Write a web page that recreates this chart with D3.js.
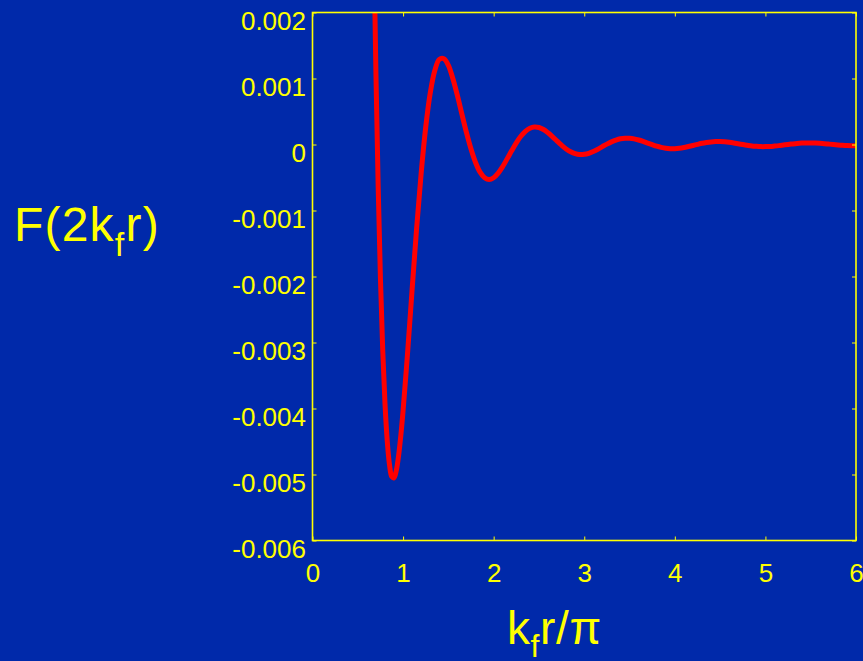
<!DOCTYPE html>
<html>
<head>
<meta charset="utf-8">
<script src="https://cdn.jsdelivr.net/npm/d3@7"></script>
<style>
  html, body { margin: 0; padding: 0; background: #0029AA; }
  svg { display: block; }
</style>
</head>
<body>
<script>
// Range function F(2 k_f r) sampled along k_f r / pi
const kfrOverPi = [
  0.65, 0.675, 0.7, 0.725, 0.75, 0.775, 0.8, 0.825, 0.85, 0.875, 0.9, 0.925, 0.95, 0.975, 1.0,
  1.05, 1.1, 1.15, 1.2, 1.25, 1.3, 1.35, 1.4, 1.45, 1.5, 1.55, 1.6, 1.65, 1.7, 1.75, 1.8, 1.85, 1.9, 1.95, 2.0,
  2.05, 2.1, 2.15, 2.2, 2.25, 2.3, 2.35, 2.4, 2.45, 2.5, 2.55, 2.6, 2.65, 2.7, 2.75, 2.8, 2.85, 2.9, 2.95, 3.0,
  3.05, 3.1, 3.15, 3.2, 3.25, 3.3, 3.35, 3.4, 3.45, 3.5, 3.55, 3.6, 3.65, 3.7, 3.75, 3.8, 3.85, 3.9, 3.95, 4.0,
  4.05, 4.1, 4.15, 4.2, 4.25, 4.3, 4.35, 4.4, 4.45, 4.5, 4.55, 4.6, 4.65, 4.7, 4.75, 4.8, 4.85, 4.9, 4.95, 5.0,
  5.05, 5.1, 5.15, 5.2, 5.25, 5.3, 5.35, 5.4, 5.45, 5.5, 5.55, 5.6, 5.65, 5.7, 5.75, 5.8, 5.85, 5.9, 5.95, 6.0
];
const F = [
  0.00572, 0.00320, 0.00109, -0.000639, -0.00203, -0.00311, -0.00392, -0.00449, -0.00485, -0.00503, -0.00505, -0.00494, -0.00472, -0.00441, -0.00403,
  -0.00315, -0.00219, -0.00126, -0.000427, 0.000263, 0.000781, 0.00112, 0.00129, 0.00130, 0.00120, 0.000995, 0.000739, 0.000457, 0.000180, -0.000068, -0.000272, -0.000419, -0.000504, -0.000531, -0.000504,
  -0.000434, -0.000333, -0.000214, -0.000091, 0.000025, 0.000124, 0.000200, 0.000247, 0.000266, 0.000258, 0.000227, 0.000177, 0.000117, 0.000052, -0.000011, -0.000067, -0.000110, -0.000139, -0.000152, -0.000149,
  -0.000133, -0.000105, -0.000071, -0.000032, 0.000006, 0.000040, 0.000067, 0.000086, 0.000095, 0.000094, 0.000085, 0.000068, 0.000046, 0.000021, -0.000003, -0.000026, -0.000044, -0.000057, -0.000063, -0.000063,
  -0.000057, -0.000046, -0.000031, -0.000015, 0.000002, 0.000018, 0.000030, 0.000039, 0.000044, 0.000044, 0.000040, 0.000033, 0.000023, 0.000011, -0.000001, -0.000012, -0.000022, -0.000028, -0.000032, -0.000032,
  -0.000030, -0.000024, -0.000017, -0.000008, 0.000001, 0.000009, 0.000016, 0.000021, 0.000024, 0.000024, 0.000022, 0.000018, 0.000013, 0.000006, -0.000001, -0.000007, -0.000012, -0.000016, -0.000018, -0.000019
];

const xTicks = [0, 1, 2, 3, 4, 5, 6];
const xTickLabels = ["0", "1", "2", "3", "4", "5", "6"];
const yTicks = [0.002, 0.001, 0, -0.001, -0.002, -0.003, -0.004, -0.005, -0.006];
const yTickLabels = ["0.002", "0.001", "0", "-0.001", "-0.002", "-0.003", "-0.004", "-0.005", "-0.006"];

const W = 863, H = 661;
const plotL = 312.5, plotT = 12.5, plotR = 856, plotB = 540.5;
const yellow = "#FFFF00";
const font = "'Liberation Sans', Arial, sans-serif";

const svg = d3.select("body").append("svg")
  .attr("width", W).attr("height", H)
  .style("background", "#0029AA");

const x = d3.scaleLinear().domain([0, 6]).range([plotL, plotR]);
const y = d3.scaleLinear().domain([-0.006, 0.002]).range([plotB, plotT]);

svg.append("defs").append("clipPath").attr("id", "plot")
  .append("rect")
  .attr("x", plotL).attr("y", plotT)
  .attr("width", plotR - plotL).attr("height", plotB - plotT);

// curve
const pts = kfrOverPi.map((t, i) => [t, F[i]]);
const line = d3.line()
  .x(d => x(d[0]))
  .y(d => y(d[1]))
  .curve(d3.curveCatmullRom.alpha(0.5));

svg.append("path")
  .datum(pts)
  .attr("clip-path", "url(#plot)")
  .attr("d", line)
  .attr("fill", "none")
  .attr("stroke", "#FF0000")
  .attr("stroke-width", 5)
  .attr("stroke-linejoin", "round");

// axes (ticks point inward on all four sides)
function styleAxis(g) {
  g.select(".domain").remove();
  g.selectAll(".tick line").attr("stroke", yellow).attr("stroke-width", 1);
  g.selectAll(".tick text")
    .attr("fill", yellow)
    .style("font-family", font)
    .style("font-size", "26px");
}

svg.append("g")
  .attr("transform", `translate(0,${plotB})`)
  .call(d3.axisBottom(x).tickValues(xTicks)
    .tickFormat((d, i) => xTickLabels[i])
    .tickSize(-4).tickSizeOuter(0).tickPadding(23))
  .call(styleAxis);

svg.append("g")
  .attr("transform", `translate(0,${plotT})`)
  .call(d3.axisTop(x).tickValues(xTicks).tickFormat("")
    .tickSize(-4).tickSizeOuter(0))
  .call(styleAxis);

svg.append("g")
  .attr("transform", `translate(${plotL},0)`)
  .call(d3.axisLeft(y).tickValues(yTicks)
    .tickFormat((d, i) => yTickLabels[i])
    .tickSize(-4).tickSizeOuter(0).tickPadding(6.5))
  .call(styleAxis)
  .call(g => g.selectAll(".tick text").attr("dy", 17));

svg.append("g")
  .attr("transform", `translate(${plotR},0)`)
  .call(d3.axisRight(y).tickValues(yTicks).tickFormat("")
    .tickSize(-4).tickSizeOuter(0))
  .call(styleAxis);

// frame
svg.append("rect")
  .attr("x", plotL).attr("y", plotT)
  .attr("width", plotR - plotL).attr("height", plotB - plotT)
  .attr("fill", "none")
  .attr("stroke", yellow)
  .attr("stroke-width", 1.6);

// axis titles
const yTitle = svg.append("text")
  .attr("x", 14).attr("y", 241)
  .attr("fill", yellow)
  .style("font-family", font)
  .style("font-size", "48px")
  .style("letter-spacing", "1.2px");
yTitle.append("tspan").text("F(2k");
yTitle.append("tspan").attr("dy", 15).style("font-size", "34px").text("f");
yTitle.append("tspan").attr("dy", -15).text("r)");

const xTitle = svg.append("text")
  .attr("x", 507).attr("y", 644)
  .attr("fill", yellow)
  .style("font-family", font)
  .style("font-size", "46px")
  .style("letter-spacing", "0.6px");
xTitle.append("tspan").text("k");
xTitle.append("tspan").attr("dy", 13).style("font-size", "32px").text("f");
xTitle.append("tspan").attr("dy", -13).text("r/\u03C0");
</script>
</body>
</html>
